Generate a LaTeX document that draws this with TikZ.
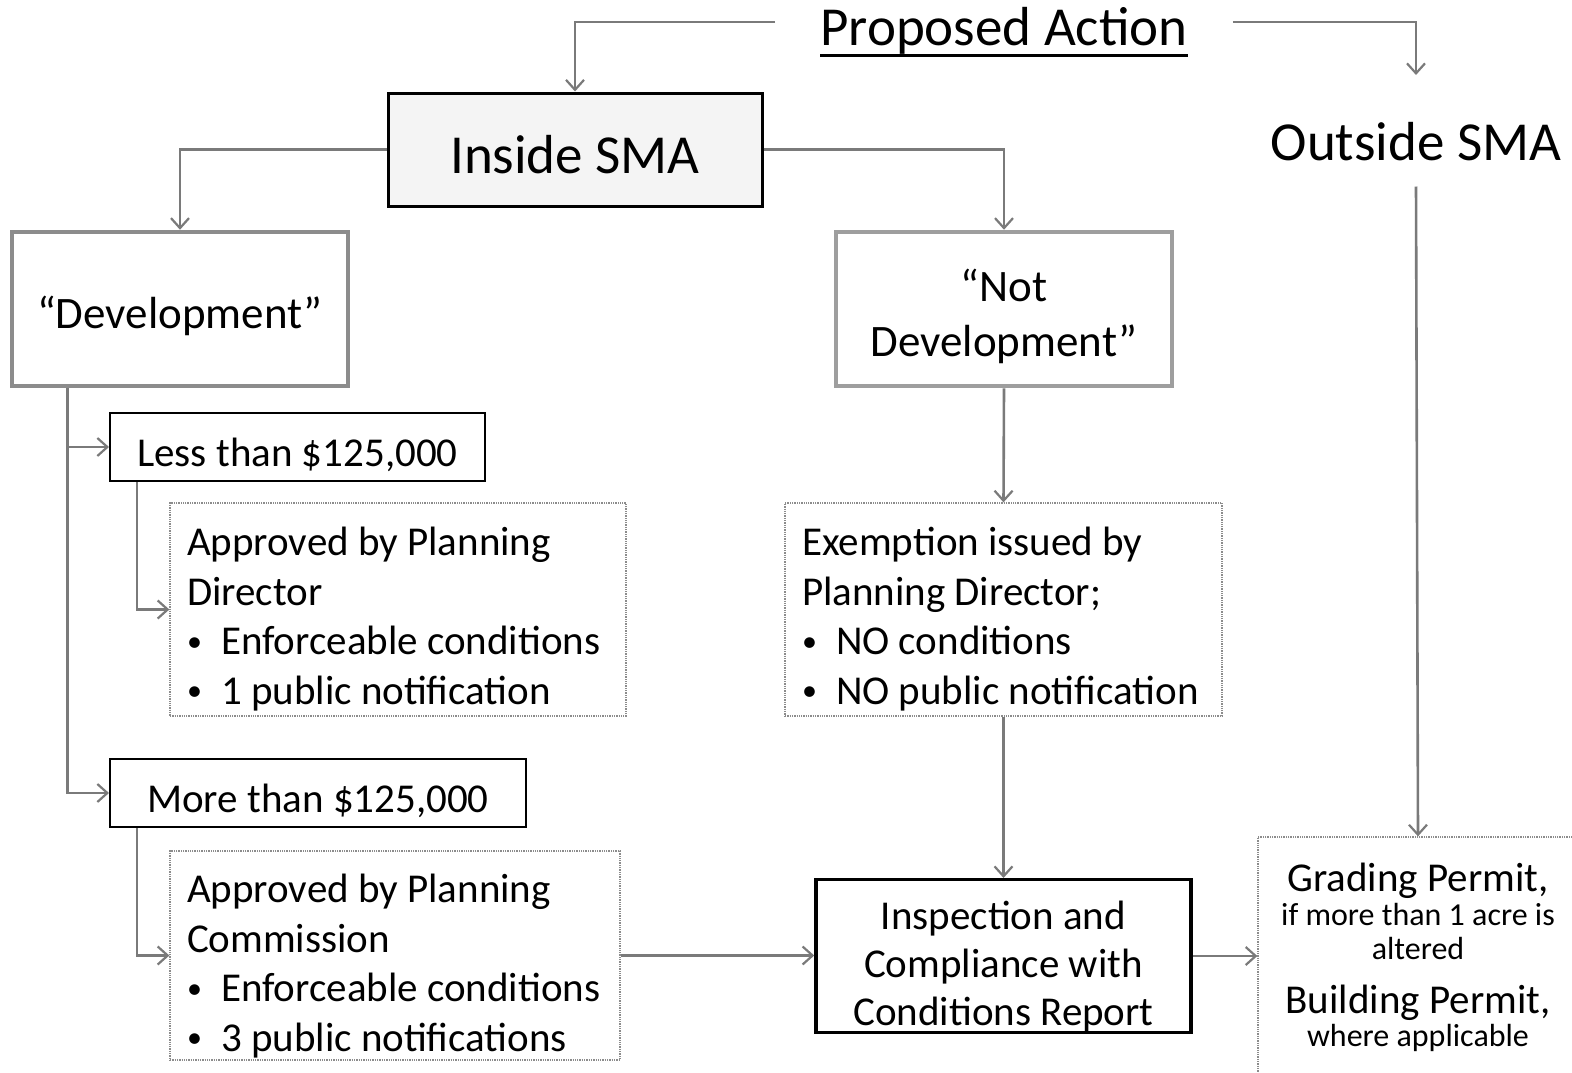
\documentclass[tikz,border=0pt]{standalone}
\usepackage{fontspec}
\setmainfont{Carlito}
\usetikzlibrary{arrows.meta}
\definecolor{lncol}{gray}{0.48}
\definecolor{devcol}{gray}{0.55}
\definecolor{ndcol}{gray}{0.62}
\definecolor{dotcol}{gray}{0.55}
\newcommand{\bul}{\makebox[34pt][l]{\raisebox{3.5pt}{\fontsize{30}{30}\selectfont\textbullet}}}
\newcommand{\listtext}[2]{\parbox{#1}{\raggedright\hyphenpenalty=10000\exhyphenpenalty=10000
  \fontsize{41}{49.5}\selectfont #2}}
\begin{document}
\begin{tikzpicture}[x=1pt,y=-1pt,
  conn/.style={draw=lncol, line width=2.6pt, -{Straight Barb[length=10pt,width=18pt,line width=2.2pt]}},
  big/.style={font=\fontsize{55}{60}\selectfont},
  mid/.style={font=\fontsize{45}{55}\selectfont},
  body/.style={font=\fontsize{41}{49.5}\selectfont},
  sizebox/.style 2 args={minimum width=#1pt, minimum height=#2pt, inner sep=0pt},
  insidebox/.style={draw=black, line width=3pt, fill=gray!9},
  devbox/.style={draw=devcol, line width=4.5pt},
  ndbox/.style={draw=ndcol, line width=4.5pt},
  costbox/.style={draw=black, line width=2pt},
  dotbox/.style={draw=dotcol, line width=1.3pt, densely dotted},
  inspbox/.style={draw=black, line width=3.5pt},
  listbox/.style={dotbox, inner xsep=17pt, inner ysep=0pt}
]
\useasboundingbox (0,0) rectangle (1572,1072);

% title
\node[big, inner sep=0pt] (pa) at (1004,31) {Proposed Action};
\draw[line width=3pt] ([yshift=-1pt]pa.south west) -- ([yshift=-1pt]pa.south east);

\node[big, insidebox, sizebox={374}{113}, text height=48.5pt, text depth=0pt] (ins) at (575,149.5) {Inside SMA};
\node[big, inner sep=0pt] (outs) at (1416,142) {Outside SMA};
\coordinate (oa) at (1416,75);

\node[mid, devbox, sizebox={336}{154}, text height=38.5pt, text depth=0pt] (dev) at (180,309) {“Development”};
\node[mid, ndbox, sizebox={336}{154}, align=center] (notdev) at (1004,309) {\rule{0pt}{48pt}“Not\\Development”};

\node[body, costbox, sizebox={375}{68}, text height=39pt, text depth=0pt] (less) at (297.5,447) {Less than \$125,000};
\node[body, costbox, sizebox={416}{68}, text height=39pt, text depth=0pt] (more) at (318,793) {More than \$125,000};

\node[listbox, minimum width=456pt, minimum height=213pt] (app1) at (398,609.5) {\listtext{422pt}{\rule{0pt}{48pt}Approved by Planning\\Director\\\bul Enforceable conditions\\\bul 1 public notification}};
\node[listbox, minimum width=450pt, minimum height=209pt] (app2) at (395,955.5) {\listtext{416pt}{\rule{0pt}{50pt}Approved by Planning\\Commission\\\bul Enforceable conditions\\\bul 3 public notifications}};
\node[listbox, minimum width=437pt, minimum height=213pt] (exem) at (1003.5,609.5) {\listtext{403pt}{\rule{0pt}{48pt}Exemption issued by\\Planning Director;\\\bul NO conditions\\\bul NO public notification}};

\node[inspbox, sizebox={375}{150}, align=center, font=\fontsize{41}{48}\selectfont] (insp) at (1003.5,956) {\rule{0pt}{50pt}Inspection and\\Compliance with\\Conditions Report};

\node[dotbox, sizebox={320}{240}] (grad) at (1418,957) {\parbox{300pt}{\centering
  \fontsize{41}{44}\selectfont Grading Permit,\par
  \fontsize{32}{34}\selectfont if more than 1 acre is\par
  altered\par
  \fontsize{41}{54}\selectfont Building Permit,\par
  \fontsize{32}{33}\selectfont where applicable\par}};

% connectors
\draw[conn] ([xshift=-45pt,yshift=9pt]pa.west) -| (ins.north);
\draw[conn] ([xshift=45pt,yshift=9pt]pa.east) -| (oa);
\draw[conn] (ins.west) -| (dev.north);
\draw[conn] (ins.east) -| (notdev.north);
\coordinate (trunk) at ([xshift=58pt]dev.south west);
\draw[conn] (trunk) |- (less.west);
\draw[conn] (trunk) |- (more.west);
\draw[conn] ([xshift=28pt]less.south west) |- (app1.west);
\draw[conn] ([xshift=28pt]more.south west) |- (app2.west);
\draw[conn] (app2.east) -- (app2.east -| insp.west);
\draw[conn] (notdev.south) -- (exem.north);
\draw[conn] (exem.south) -- (insp.north);
\draw[conn] (insp.east) -- (insp.east -| grad.west);
\draw[conn] ([yshift=-25pt]outs.south) -- (grad.north);
\end{tikzpicture}
\end{document}
